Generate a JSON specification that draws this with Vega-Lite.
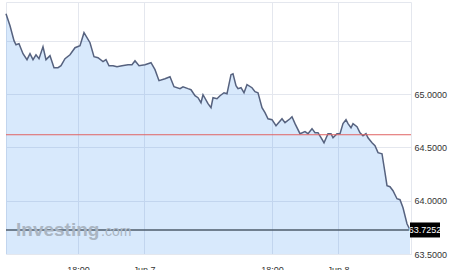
{
  "$schema": "https://vega.github.io/schema/vega-lite/v6.json",
  "autosize": "none",
  "width": 405,
  "height": 252,
  "padding": {"left": 6, "top": 2, "right": 39, "bottom": 16},
  "background": "white",
  "config": {
    "view": {"stroke": "#e4e7ee", "strokeWidth": 1},
    "font": "Liberation Sans"
  },
  "data": {
    "values": [
      {"i": 0, "v": 65.753}, {"i": 4, "v": 65.640}, {"i": 8, "v": 65.500}, {"i": 10, "v": 65.462},
      {"i": 13, "v": 65.472}, {"i": 17, "v": 65.378}, {"i": 21, "v": 65.322}, {"i": 24, "v": 65.378},
      {"i": 27, "v": 65.322}, {"i": 30, "v": 65.368}, {"i": 33, "v": 65.331}, {"i": 37, "v": 65.443},
      {"i": 40, "v": 65.322}, {"i": 44, "v": 65.359}, {"i": 48, "v": 65.247}, {"i": 52, "v": 65.247},
      {"i": 55, "v": 65.265}, {"i": 59, "v": 65.331}, {"i": 64, "v": 65.368}, {"i": 69, "v": 65.434},
      {"i": 74, "v": 65.453}, {"i": 78, "v": 65.575}, {"i": 84, "v": 65.481}, {"i": 88, "v": 65.350},
      {"i": 92, "v": 65.340}, {"i": 97, "v": 65.303}, {"i": 100, "v": 65.322}, {"i": 103, "v": 65.265},
      {"i": 107, "v": 65.265}, {"i": 111, "v": 65.256}, {"i": 116, "v": 65.265}, {"i": 122, "v": 65.275},
      {"i": 126, "v": 65.275}, {"i": 129, "v": 65.312}, {"i": 133, "v": 65.265}, {"i": 139, "v": 65.275},
      {"i": 145, "v": 65.293}, {"i": 149, "v": 65.228}, {"i": 153, "v": 65.125}, {"i": 159, "v": 65.143},
      {"i": 164, "v": 65.162}, {"i": 168, "v": 65.068}, {"i": 174, "v": 65.050}, {"i": 177, "v": 65.068},
      {"i": 182, "v": 65.050}, {"i": 185, "v": 65.040}, {"i": 189, "v": 64.984}, {"i": 192, "v": 64.965},
      {"i": 195, "v": 64.918}, {"i": 197, "v": 64.993}, {"i": 202, "v": 64.909}, {"i": 205, "v": 64.872},
      {"i": 207, "v": 64.965}, {"i": 211, "v": 64.956}, {"i": 214, "v": 64.984}, {"i": 218, "v": 65.012},
      {"i": 221, "v": 65.003}, {"i": 225, "v": 65.181}, {"i": 227, "v": 65.190}, {"i": 230, "v": 65.078},
      {"i": 232, "v": 65.050}, {"i": 235, "v": 65.059}, {"i": 238, "v": 65.012}, {"i": 241, "v": 65.087},
      {"i": 246, "v": 65.059}, {"i": 249, "v": 65.022}, {"i": 252, "v": 65.012}, {"i": 256, "v": 64.872},
      {"i": 259, "v": 64.825}, {"i": 262, "v": 64.768}, {"i": 266, "v": 64.759}, {"i": 270, "v": 64.703},
      {"i": 276, "v": 64.768}, {"i": 279, "v": 64.731}, {"i": 284, "v": 64.768}, {"i": 286, "v": 64.787},
      {"i": 289, "v": 64.722}, {"i": 294, "v": 64.628}, {"i": 299, "v": 64.647}, {"i": 302, "v": 64.628},
      {"i": 306, "v": 64.675}, {"i": 309, "v": 64.637}, {"i": 312, "v": 64.637}, {"i": 315, "v": 64.590},
      {"i": 318, "v": 64.543}, {"i": 322, "v": 64.628}, {"i": 325, "v": 64.628}, {"i": 327, "v": 64.590},
      {"i": 331, "v": 64.628}, {"i": 334, "v": 64.628}, {"i": 337, "v": 64.722}, {"i": 340, "v": 64.759},
      {"i": 342, "v": 64.722}, {"i": 345, "v": 64.684}, {"i": 347, "v": 64.722}, {"i": 351, "v": 64.693},
      {"i": 354, "v": 64.637}, {"i": 357, "v": 64.609}, {"i": 360, "v": 64.628}, {"i": 362, "v": 64.590},
      {"i": 366, "v": 64.543}, {"i": 369, "v": 64.515}, {"i": 372, "v": 64.450}, {"i": 376, "v": 64.440},
      {"i": 379, "v": 64.262}, {"i": 381, "v": 64.140}, {"i": 384, "v": 64.131}, {"i": 387, "v": 64.093},
      {"i": 391, "v": 64.018}, {"i": 394, "v": 64.009}, {"i": 397, "v": 63.934}, {"i": 401, "v": 63.784},
      {"i": 404, "v": 63.7252}
    ]
  },
  "layer": [
    {
      "mark": {"type": "area", "color": "#3d8ff0", "opacity": 0.2},
      "encoding": {
        "x": {
          "field": "i", "type": "quantitative",
          "scale": {"domain": [0, 405], "nice": false, "zero": false},
          "axis": {
            "title": null, "values": [72, 138, 266, 332],
            "labelExpr": "datum.value == 72 ? '18:00' : datum.value == 138 ? 'Jun 7' : datum.value == 266 ? '18:00' : 'Jun 8'",
            "domain": false, "ticks": false, "labelPadding": 11, "labelFontSize": 9,
            "labelColor": "#333333", "gridColor": "#e4e7ee", "grid": true
          }
        },
        "y": {
          "field": "v", "type": "quantitative",
          "scale": {"domain": [63.5, 65.8625], "nice": false, "zero": false},
          "axis": {
            "title": null, "orient": "right", "values": [63.5, 64, 64.5, 65, 65.5],
            "labelExpr": "datum.value > 65.2 ? '' : format(datum.value, '.4f')",
            "domain": false, "ticks": false, "labelPadding": 3, "labelFontSize": 9,
            "labelColor": "#333333", "gridColor": "#e4e7ee", "grid": true
          }
        },
        "y2": {"datum": 63.5}
      }
    },
    {
      "mark": {"type": "line", "color": "#56627f", "strokeWidth": 1.5},
      "encoding": {
        "x": {"field": "i", "type": "quantitative"},
        "y": {"field": "v", "type": "quantitative"}
      }
    },
    {
      "data": {"values": [{"level": 64.618}]},
      "mark": {"type": "rule", "color": "#e06464", "strokeWidth": 1},
      "encoding": {"y": {"field": "level", "type": "quantitative"}}
    },
    {
      "data": {"values": [{"level": 63.7252}]},
      "mark": {"type": "rule", "color": "#4e5b6b", "strokeWidth": 1.5},
      "encoding": {"y": {"field": "level", "type": "quantitative"}}
    },
    {
      "data": {"values": [{"i": 404, "v": 63.7252, "label": "63.7252"}]},
      "layer": [
        {
          "mark": {"type": "point", "shape": "M0,-0.5L2,-0.5L2,0.5L0,0.5Z", "size": 900, "filled": true, "color": "#000000", "opacity": 1, "clip": false},
          "encoding": {
            "x": {"field": "i", "type": "quantitative"},
            "y": {"field": "v", "type": "quantitative"}
          }
        },
        {
          "mark": {"type": "text", "color": "#ffffff", "fontSize": 9, "align": "center", "baseline": "middle", "dx": 15, "clip": false},
          "encoding": {
            "x": {"field": "i", "type": "quantitative"},
            "y": {"field": "v", "type": "quantitative"},
            "text": {"field": "label"}
          }
        }
      ]
    },
    {
      "data": {"values": [{"i": 10, "v": 63.672, "t": "Investing"}, {"i": 95, "v": 63.672, "t": ".com"}]},
      "layer": [
        {
          "transform": [{"filter": "datum.t == 'Investing'"}],
          "mark": {"type": "text", "fontSize": 19, "fontWeight": "bold", "color": "#aab5c2", "align": "left", "baseline": "alphabetic"},
          "encoding": {
            "x": {"field": "i", "type": "quantitative"},
            "y": {"field": "v", "type": "quantitative"},
            "text": {"field": "t"}
          }
        },
        {
          "transform": [{"filter": "datum.t == '.com'"}],
          "mark": {"type": "text", "fontSize": 14, "color": "#aab5c2", "align": "left", "baseline": "alphabetic"},
          "encoding": {
            "x": {"field": "i", "type": "quantitative"},
            "y": {"field": "v", "type": "quantitative"},
            "text": {"field": "t"}
          }
        }
      ]
    }
  ]
}
